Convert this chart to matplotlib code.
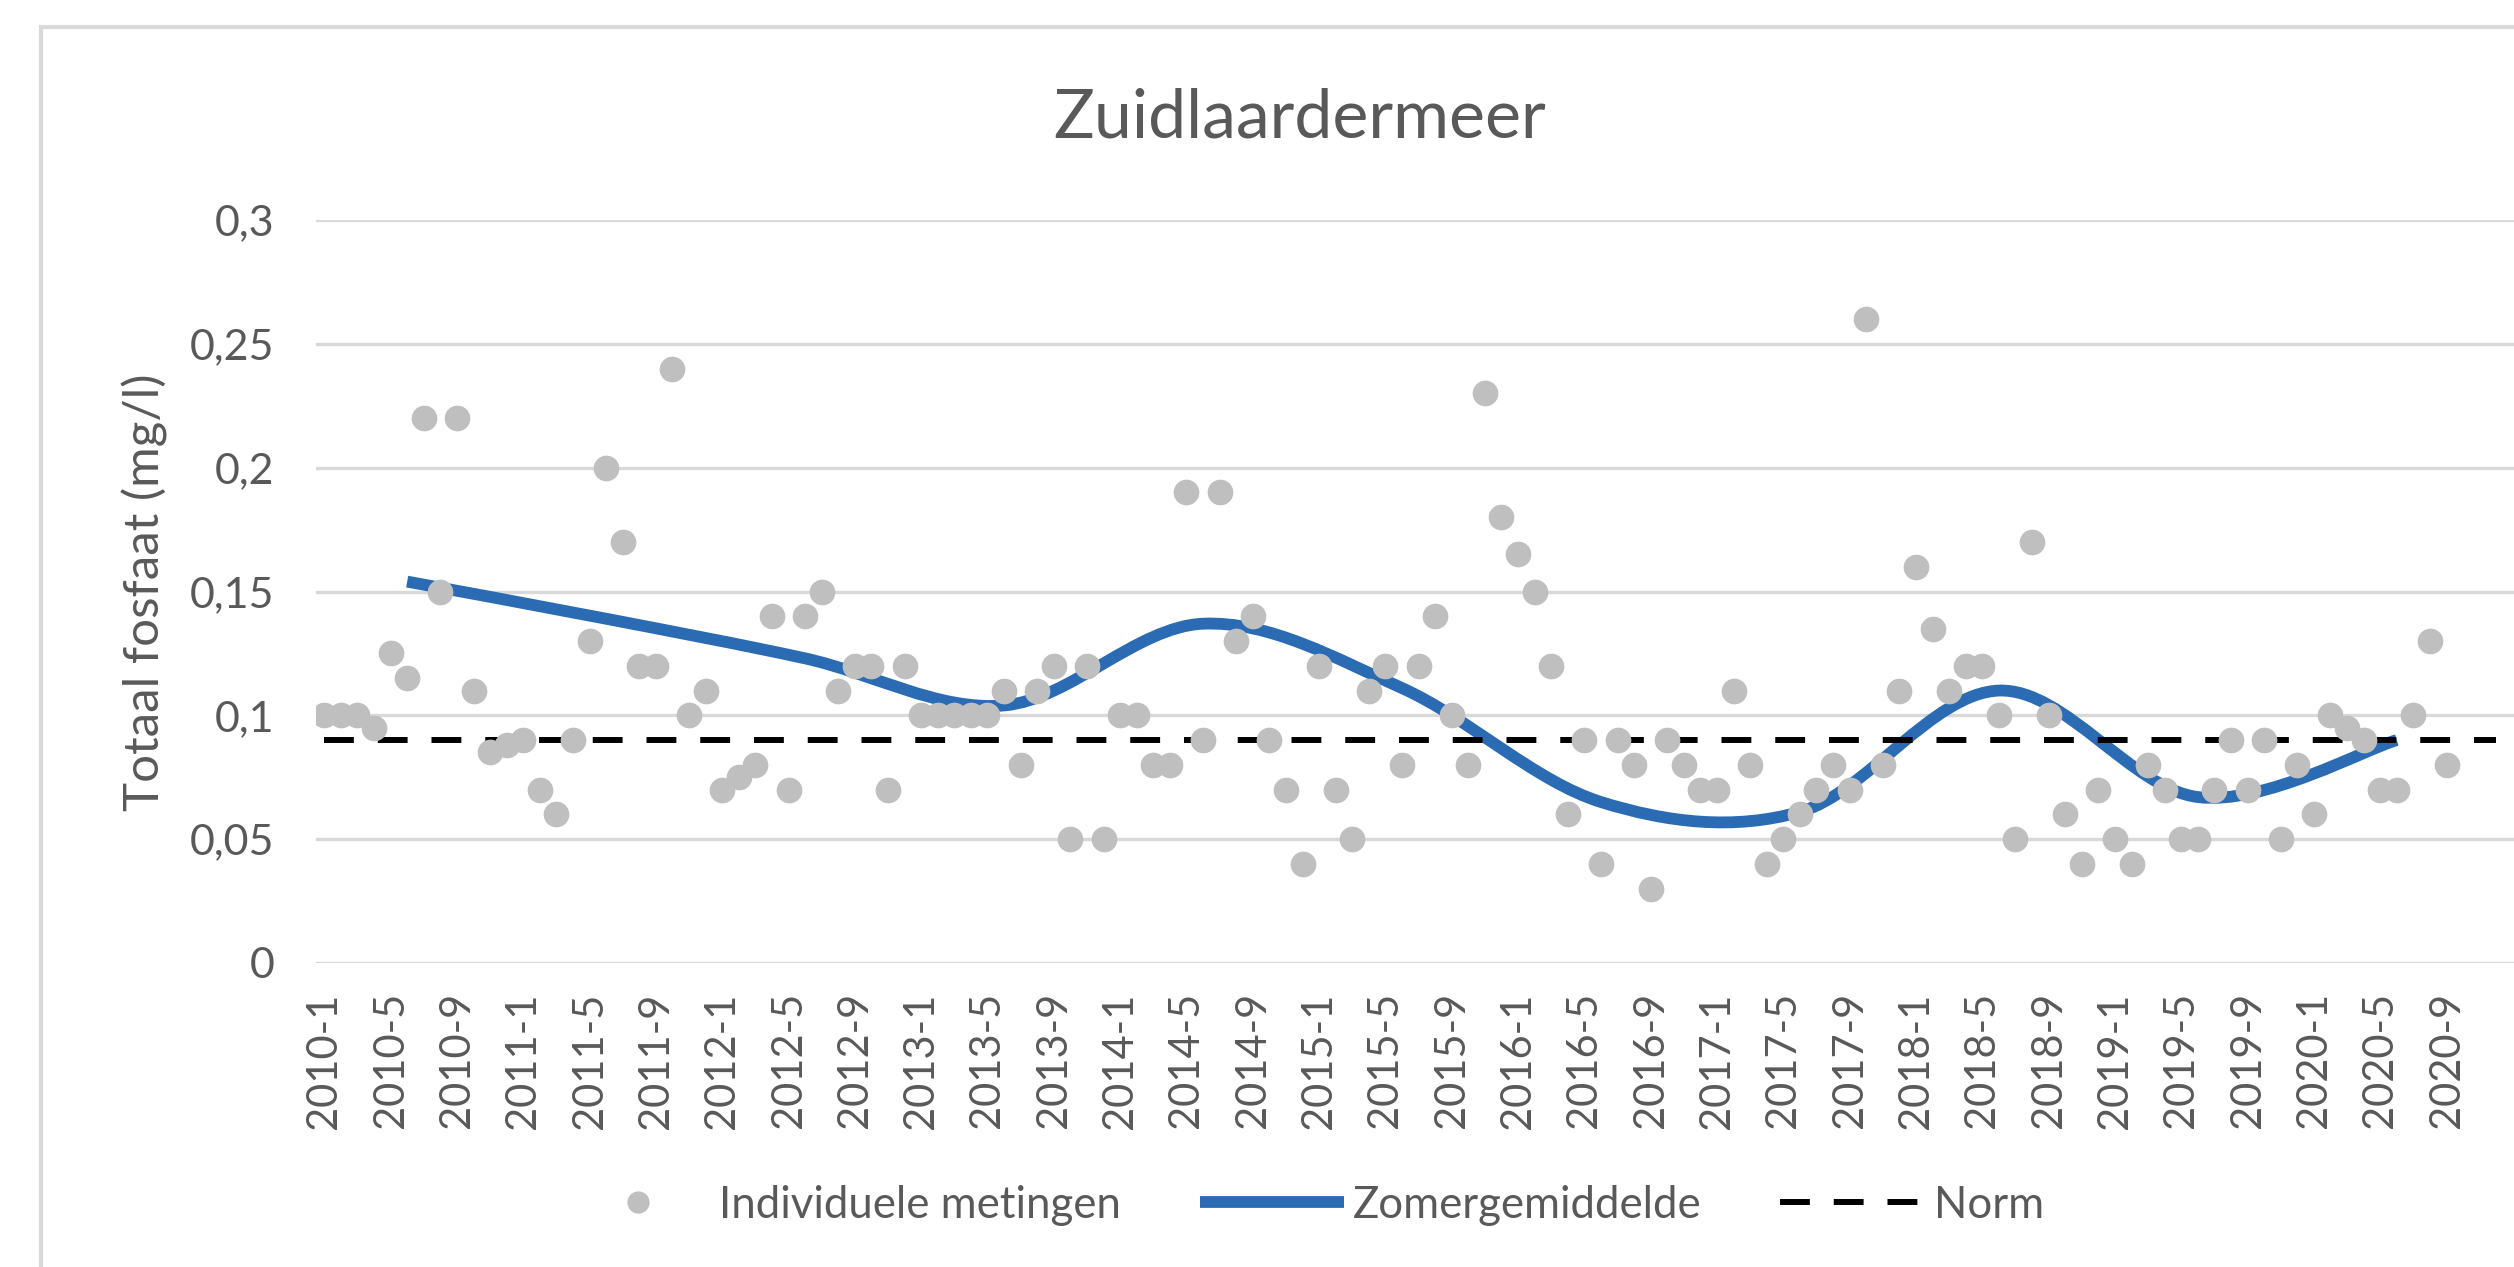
import matplotlib
matplotlib.use("Agg")
import matplotlib.pyplot as plt
from matplotlib.path import Path
from matplotlib.patches import PathPatch, Rectangle
from matplotlib.lines import Line2D
import numpy as np

plt.rcParams['font.family'] = ['Lato', 'DejaVu Sans']

# ---------------- data ----------------
title = "Zuidlaardermeer"
ylabel = "Totaal fosfaat (mg/l)"
years = list(range(2010, 2021))
categories = [f"{y}-{m}" for y in years for m in range(1, 13)]   # 2010-1 .. 2020-12
tick_labels = categories[::4][:33]                                  # 2010-1, 2010-5, ... 2020-9

# individual measurements, one per month from 2010-1 to 2020-9
metingen = [
    0.10, 0.10, 0.10, 0.095, 0.125, 0.115, 0.22, 0.15, 0.22, 0.11, 0.085, 0.088,   # 2010
    0.09, 0.07, 0.06, 0.09, 0.13, 0.20, 0.17, 0.12, 0.12, 0.24, 0.10, 0.11,        # 2011
    0.07, 0.075, 0.08, 0.14, 0.07, 0.14, 0.15, 0.11, 0.12, 0.12, 0.07, 0.12,       # 2012
    0.10, 0.10, 0.10, 0.10, 0.10, 0.11, 0.08, 0.11, 0.12, 0.05, 0.12, 0.05,        # 2013
    0.10, 0.10, 0.08, 0.08, 0.19, 0.09, 0.19, 0.13, 0.14, 0.09, 0.07, 0.04,        # 2014
    0.12, 0.07, 0.05, 0.11, 0.12, 0.08, 0.12, 0.14, 0.10, 0.08, 0.23, 0.18,        # 2015
    0.165, 0.15, 0.12, 0.06, 0.09, 0.04, 0.09, 0.08, 0.03, 0.09, 0.08, 0.07,       # 2016
    0.07, 0.11, 0.08, 0.04, 0.05, 0.06, 0.07, 0.08, 0.07, 0.26, 0.08, 0.11,        # 2017
    0.16, 0.135, 0.11, 0.12, 0.12, 0.10, 0.05, 0.17, 0.10, 0.06, 0.04, 0.07,       # 2018
    0.05, 0.04, 0.08, 0.07, 0.05, 0.05, 0.07, 0.09, 0.07, 0.09, 0.05, 0.08,        # 2019
    0.06, 0.10, 0.095, 0.09, 0.07, 0.07, 0.10, 0.13, 0.08,                         # 2020
]

# summer averages, plotted at June of each year
zomer_cats = [f"{y}-6" for y in years]
zomergemiddelde = [0.154, 0.139, 0.123, 0.104, 0.137, 0.111, 0.065, 0.061, 0.110, 0.067, 0.090]

norm = 0.09
yticks = [0, 0.05, 0.1, 0.15, 0.2, 0.25, 0.3]
ytick_labels = ["0", "0,05", "0,1", "0,15", "0,2", "0,25", "0,3"]
legend_labels = ["Individuele metingen", "Zomergemiddelde", "Norm"]

# ---------------- styling ----------------
TXT = '#595959'
GRID = '#D9D9D9'
DOT = '#BFBFBF'
BLUE = '#2A6BB3'
NORM_DASH = (5.0, 4.0)

W, H = 2514, 1267
fig = plt.figure(figsize=(W / 100, H / 100), dpi=100)
fig.patch.set_facecolor('white')

left_px, right_px, top_px, bot_px = 316, 2514, 220, 963
ax = fig.add_axes([left_px / W, 1 - bot_px / H, (right_px - left_px) / W, (bot_px - top_px) / H])

cat_index = {c: i for i, c in enumerate(categories)}
x_met = [cat_index[c] for c in categories[:len(metingen)]]
x_zom = [cat_index[c] for c in zomer_cats]

# smoothed summer-average line (Catmull-Rom style Bezier like Excel "smoothed line")
pts = np.column_stack([x_zom, zomergemiddelde]).astype(float)
verts = [tuple(pts[0])]
codes = [Path.MOVETO]
n = len(pts)
for i in range(n - 1):
    p0 = pts[i - 1] if i > 0 else pts[i]
    p1 = pts[i]
    p2 = pts[i + 1]
    p3 = pts[i + 2] if i + 2 < n else pts[i + 1]
    c1 = p1 + (p2 - p0) / 6.0
    c2 = p2 - (p3 - p1) / 6.0
    verts += [tuple(c1), tuple(c2), tuple(p2)]
    codes += [Path.CURVE4] * 3
curve = PathPatch(Path(verts, codes), facecolor='none', edgecolor=BLUE, lw=8.5,
                  capstyle='butt', joinstyle='round', zorder=2)
ax.add_patch(curve)

# norm
ax.plot([0, len(categories) - 1], [norm, norm], color='black', lw=4.3,
        dashes=NORM_DASH, solid_capstyle='butt', dash_capstyle='butt', zorder=3)

# individual measurements
ax.plot(x_met, metingen, linestyle='none', marker='o', ms=18.5, color=DOT,
        markeredgewidth=0, zorder=4)

ax.set_xlim(-0.5, -0.5 + (right_px - left_px) / 16.58)
ax.set_ylim(0, 0.3)
ax.set_yticks(yticks)
ax.set_yticklabels(ytick_labels)
tick_pos = [cat_index[c] for c in tick_labels]
ax.set_xticks(tick_pos)
ax.set_xticklabels(tick_labels, rotation=90)
ax.tick_params(axis='both', length=0, labelsize=30, labelcolor=TXT)
ax.tick_params(axis='y', labelsize=31, pad=30)
ax.tick_params(axis='x', pad=21)
for s in ax.spines.values():
    s.set_visible(False)
ax.grid(axis='y', color=GRID, lw=2.4, zorder=0)
ax.set_axisbelow(True)

# texts
fig.text(1300 / W, 1 - 137 / H, title, ha='center', va='baseline', fontsize=49, color=TXT)
fig.text(145 / W, 1 - 592 / H, ylabel, rotation=90, ha='center', va='center',
         fontsize=35.5, color=TXT)

# chart frame
fig.patches.append(Rectangle((41 / W, -0.2), 1.5, (1 - 27 / H) + 0.2, transform=fig.transFigure,
                             fill=False, ec=GRID, lw=3, zorder=0))

handles = [
    Line2D([], [], linestyle='none', marker='o', ms=16, color=DOT, markeredgewidth=0),
    Line2D([], [], color=BLUE, lw=8.5, solid_capstyle='butt'),
    Line2D([], [], color='black', lw=4.3, dashes=NORM_DASH, dash_capstyle='butt'),
]
leg = fig.legend(handles, legend_labels, loc='center', bbox_to_anchor=(1305 / W, 1 - 1205 / H),
                 ncol=3, frameon=False, fontsize=31.5, handlelength=3.3, handletextpad=0.2,
                 columnspacing=1.8, labelcolor=TXT)

fig.savefig('out.png', dpi=100, facecolor='white')
